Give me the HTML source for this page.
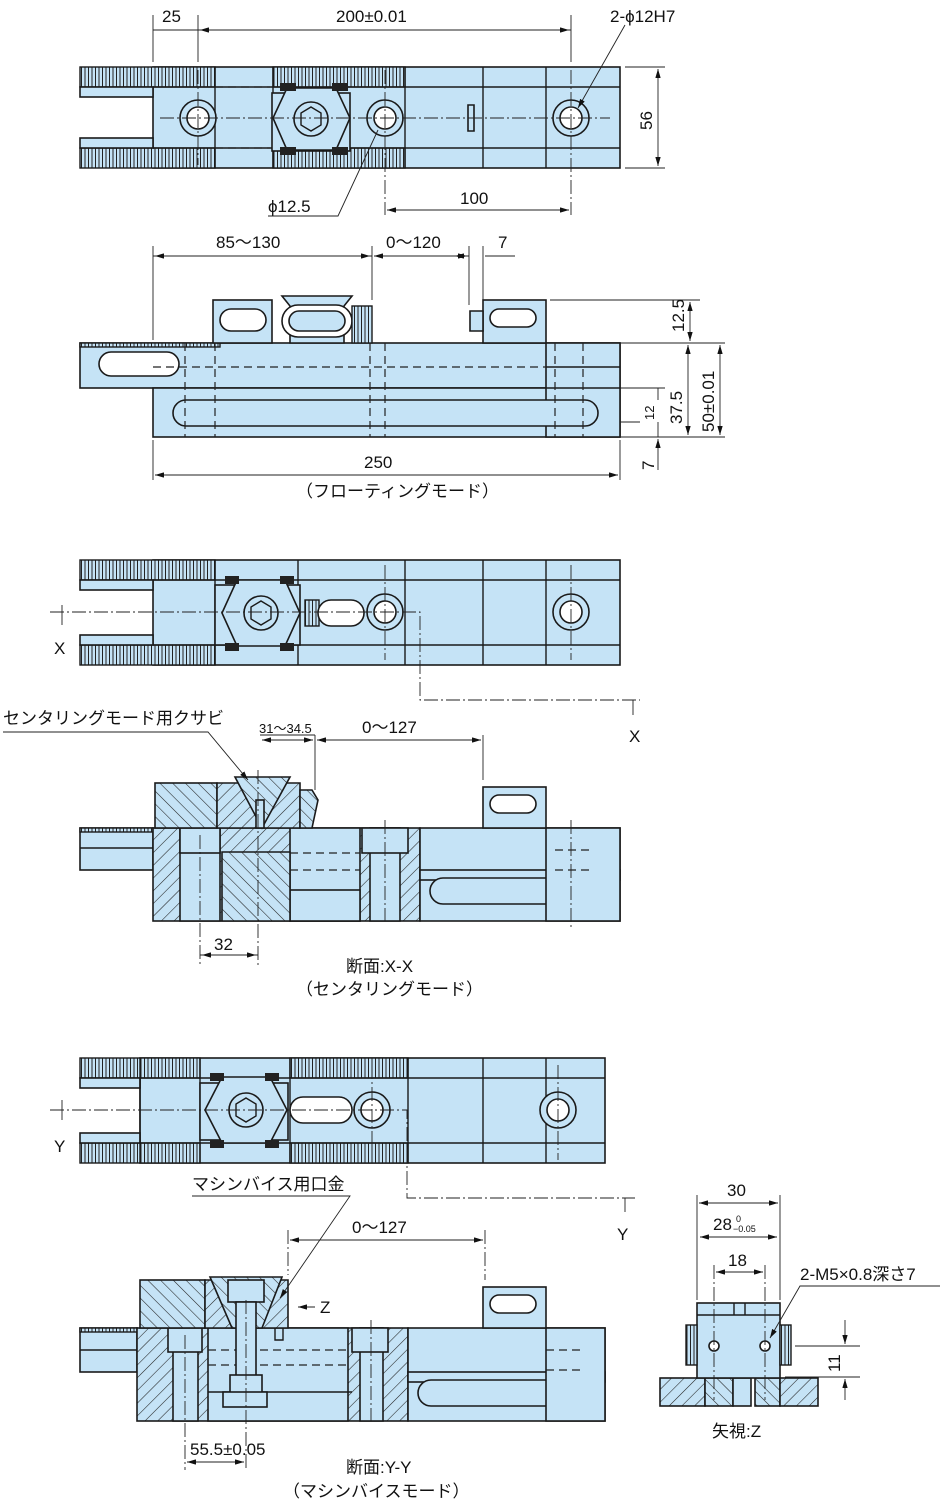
<!DOCTYPE html>
<html><head><meta charset="utf-8"><style>
body{margin:0;background:#fff}
svg{display:block}
text{font-family:"Liberation Sans","Noto Sans CJK JP",sans-serif;font-size:17px;fill:#111}
.s{fill:#c5e3f6;stroke:#1a1a1a;stroke-width:1.6}
.h{fill:url(#hat);stroke:#1a1a1a;stroke-width:1.6}
.h2{fill:url(#hat2);stroke:#1a1a1a;stroke-width:1.6}
.sr{fill:url(#ser);stroke:#1a1a1a;stroke-width:1.4}
.l{stroke:#1a1a1a;stroke-width:1.4;fill:none}
.d{stroke:#222;stroke-width:0.9;fill:none}
.dash{stroke:#222;stroke-width:1.2;stroke-dasharray:8 5;fill:none}
.c{stroke:#222;stroke-width:0.9;stroke-dasharray:14 3 2 3;fill:none}
.w{fill:#fff;stroke:#1a1a1a;stroke-width:1.6}
</style></head><body>
<svg width="941" height="1505" viewBox="0 0 941 1505" xmlns="http://www.w3.org/2000/svg">
<defs>
<pattern id="hat" width="9" height="9" patternUnits="userSpaceOnUse" patternTransform="rotate(45)"><rect width="9" height="9" fill="#c5e3f6"/><line x1="0" y1="0" x2="0" y2="9" stroke="#222" stroke-width="1.1"/></pattern>
<pattern id="hat2" width="9" height="9" patternUnits="userSpaceOnUse" patternTransform="rotate(-45)"><rect width="9" height="9" fill="#c5e3f6"/><line x1="0" y1="0" x2="0" y2="9" stroke="#222" stroke-width="1.1"/></pattern>
<pattern id="ser" width="3.5" height="10" patternUnits="userSpaceOnUse"><rect width="3.5" height="10" fill="#c5e3f6"/><line x1="1" y1="0" x2="1" y2="10" stroke="#222" stroke-width="1"/></pattern>
<marker id="a" markerWidth="10" markerHeight="6" refX="10" refY="3" orient="auto"><path d="M0,0L10,3L0,6z" fill="#111"/></marker>
<marker id="b" markerWidth="10" markerHeight="6" refX="0" refY="3" orient="auto"><path d="M10,0L0,3L10,6z" fill="#111"/></marker>
</defs>

<!-- ===== VIEW 1 ===== -->
<rect class="s" x="153" y="67" width="467" height="101"/>
<rect class="sr" x="80" y="67" width="135" height="20"/>
<rect class="sr" x="80" y="148" width="135" height="20"/>
<rect class="sr" x="273" y="67" width="132" height="20"/>
<rect class="sr" x="273" y="148" width="132" height="20"/>
<rect class="s" x="80" y="87" width="73" height="10"/>
<rect class="s" x="80" y="138" width="73" height="10"/>
<path class="l" d="M153 87H620M153 148H620M215 67V168M273 67V168M405 67V168M483 67V168M546 67V168"/>
<path class="dash" d="M215 87H270M215 148H270"/>
<rect class="s" x="272" y="93" width="78" height="58"/>
<path class="s" d="M287 88L336 88L350 118L336 150L287 150L273 118Z"/>
<circle class="s" cx="311" cy="119" r="17"/><path class="l" d="M311 107l10 6v12l-10 6l-10-6v-12z"/>
<rect x="280" y="83" width="16" height="8" fill="#222"/><rect x="332" y="83" width="16" height="8" fill="#222"/>
<rect x="280" y="147" width="16" height="8" fill="#222"/><rect x="332" y="147" width="16" height="8" fill="#222"/>
<g><circle class="s" cx="198" cy="118" r="18"/><circle class="w" cx="198" cy="118" r="11"/>
<circle class="s" cx="385" cy="118" r="18"/><circle class="w" cx="385" cy="118" r="11"/>
<circle class="s" cx="571" cy="118" r="18"/><circle class="w" cx="571" cy="118" r="11"/></g>
<path class="s" d="M468 105h6v26h-6z"/>
<path class="c" d="M160 118H610M198 70V165M385 70V215M571 70V215"/>
<path class="d" d="M153 62V15M198 62V15M571 62V15M153 30H198M198 30H571" />
<path class="d" marker-start="url(#b)" marker-end="url(#a)" d="M200 30H569"/>
<text x="162" y="22">25</text><text x="336" y="22">200±0.01</text>
<text x="610" y="22">2-ϕ12H7</text><path class="d" marker-end="url(#a)" d="M625 25L578 108"/>
<path class="d" d="M625 67H665M625 168H665"/><path class="d" marker-start="url(#b)" marker-end="url(#a)" d="M658 69V166"/>
<text x="0" y="0" transform="translate(652,130) rotate(-90)">56</text>
<path class="d" marker-start="url(#b)" marker-end="url(#a)" d="M387 210H569"/><text x="460" y="204">100</text>
<text x="268" y="212">ϕ12.5</text><path class="d" d="M268 216H338L378 130"/>

<!-- ===== VIEW 2 ===== -->
<rect class="s" x="80" y="343" width="540" height="45"/>
<rect class="sr" x="80" y="343" width="140" height="4"/>
<rect class="s" x="153" y="388" width="467" height="49"/>
<rect class="s" x="546" y="343" width="74" height="94"/>
<path class="l" d="M546 367H620M546 388H620"/>
<rect class="w" x="99" y="352" width="80" height="24" rx="12"/>
<rect class="s" x="173" y="400" width="425" height="26" rx="13"/>
<rect class="s" x="213" y="300" width="59" height="43"/><rect class="w" x="220" y="309" width="46" height="22" rx="11"/>
<path class="s" d="M282 296H352L344 306V343H290V306Z"/>
<rect class="w" x="282" y="305" width="70" height="32" rx="16"/><rect class="s" x="289" y="311" width="56" height="20" rx="10"/>
<rect class="sr" x="352" y="306" width="20" height="37"/>
<rect class="s" x="483" y="300" width="63" height="43"/><rect class="w" x="490" y="309" width="46" height="18" rx="9"/>
<path class="s" d="M470 311h13v20h-13z"/>
<path class="dash" d="M185 343V437M215 343V437M370 343V437M385 343V437M555 343V437M583 343V437M153 367H546"/>
<path class="d" d="M153 246V340M372 246V300M469 246V305M483 246V300M153 256H372"/>
<path class="d" marker-start="url(#b)" marker-end="url(#a)" d="M155 256H370"/>
<path class="d" marker-start="url(#b)" marker-end="url(#a)" d="M374 256H467"/>
<path class="d" marker-end="url(#a)" d="M515 256H485M469 256H455"/>
<text x="216" y="248">85～130</text><text x="386" y="248">0～120</text><text x="498" y="248">7</text>
<path class="d" d="M550 300H700M620 343H725M620 388H665M620 437H725M620 422H640"/>
<path class="d" marker-start="url(#b)" marker-end="url(#a)" d="M690 302V341"/><text transform="translate(684,332) rotate(-90)">12.5</text>
<path class="d" marker-start="url(#b)" marker-end="url(#a)" d="M720 345V435"/><text transform="translate(714,432) rotate(-90)">50±0.01</text>
<path class="d" marker-start="url(#b)" marker-end="url(#a)" d="M688 345V435"/><text transform="translate(682,424) rotate(-90)">37.5</text>
<path class="d" d="M658 388V400M658 437V422"/><text transform="translate(654,420) rotate(-90)" style="font-size:13px">12</text>
<path class="d" marker-end="url(#a)" d="M658 470V439"/><text transform="translate(654,470) rotate(-90)">7</text>
<path class="d" d="M153 440V480M620 440V480"/><path class="d" marker-start="url(#b)" marker-end="url(#a)" d="M155 475H618"/>
<text x="364" y="468">250</text><text x="296" y="497">（フローティングモード）</text>

<!-- ===== VIEW 3 ===== -->
<rect class="s" x="153" y="560" width="467" height="105"/>
<rect class="sr" x="80" y="560" width="135" height="20"/>
<rect class="sr" x="80" y="645" width="135" height="20"/>
<rect class="s" x="80" y="580" width="73" height="10"/>
<rect class="s" x="80" y="635" width="73" height="10"/>
<path class="l" d="M153 580H620M153 645H620M215 560V665M298 560V665M405 560V665M483 560V665M546 560V665"/>
<rect class="s" x="215" y="585" width="85" height="60"/>
<path class="s" d="M237 580L285 580L300 613L285 646L237 646L222 613Z"/>
<circle class="s" cx="261" cy="613" r="17"/><path class="l" d="M261 601l10 6v12l-10 6l-10-6v-12z"/>
<rect x="225" y="576" width="14" height="8" fill="#222"/><rect x="280" y="576" width="14" height="8" fill="#222"/>
<rect x="225" y="643" width="14" height="8" fill="#222"/><rect x="280" y="643" width="14" height="8" fill="#222"/>
<rect class="sr" x="305" y="600" width="14" height="26"/>
<rect class="w" x="318" y="600" width="46" height="26" rx="13"/>
<circle class="s" cx="385" cy="612" r="18"/><circle class="w" cx="385" cy="612" r="11"/>
<circle class="s" cx="571" cy="612" r="18"/><circle class="w" cx="571" cy="612" r="11"/>
<path class="c" d="M50 612H420V700H640M571 565V660M385 565V660"/>
<path class="d" d="M62 605V625M633 700V715"/><text x="54" y="654">X</text><text x="629" y="742">X</text>

<!-- ===== VIEW 4 section ===== -->
<rect class="s" x="80" y="828" width="73" height="42"/>
<rect class="sr" x="80" y="828" width="73" height="4"/>
<path class="l" d="M80 848H153"/>
<rect class="h" x="153" y="828" width="267" height="93"/>
<rect class="s" x="420" y="828" width="200" height="93"/>
<rect class="s" x="180" y="828" width="40" height="93"/><rect class="s" x="180" y="828" width="40" height="25"/>
<rect class="s" x="290" y="828" width="70" height="93"/><rect class="s" x="290" y="890" width="70" height="31"/>
<rect class="s" x="370" y="828" width="30" height="93"/><rect class="s" x="362" y="828" width="46" height="25"/>
<path class="h2" d="M222 852H290V921H222Z"/>
<rect class="s" x="420" y="870" width="200" height="10"/>
<rect class="s" x="430" y="878" width="168" height="26" rx="13"/>
<rect class="s" x="546" y="828" width="74" height="93"/>
<path class="dash" d="M290 853H360M290 870H360M555 850H590M555 870H590"/>
<rect class="h2" x="155" y="783" width="62" height="45"/>
<path class="h" d="M217 783H300V828H217Z"/>
<path class="h2" d="M300 790H312L318 800L312 828H300Z"/>
<path class="h2" d="M235 777H290L262 828Z"/>
<rect class="s" x="256" y="800" width="8" height="28"/>
<rect class="s" x="483" y="787" width="63" height="41"/><rect class="w" x="490" y="795" width="46" height="18" rx="9"/>
<path class="c" d="M200 835V965M258 770V965M385 820V921M571 820V930"/>
<path class="d" d="M200 955H258"/><path class="d" marker-start="url(#b)" marker-end="url(#a)" d="M202 955H256"/>
<text x="214" y="950">32</text>
<path class="d" d="M260 735H315M315 735V790"/><path class="d" marker-start="url(#b)" marker-end="url(#a)" d="M262 740H313"/>
<text x="259" y="733" style="font-size:13px">31～34.5</text>
<path class="d" d="M483 735V780"/><path class="d" marker-start="url(#b)" marker-end="url(#a)" d="M317 740H481"/>
<text x="362" y="733">0～127</text>
<text x="3" y="724">センタリングモード用クサビ</text>
<path class="d" marker-end="url(#a)" d="M3 732H208L248 780"/>
<text x="346" y="972">断面:X-X</text><text x="296" y="995">（センタリングモード）</text>

<!-- ===== VIEW 5 ===== -->
<rect class="s" x="140" y="1058" width="465" height="105"/>
<rect class="sr" x="80" y="1058" width="120" height="20"/>
<rect class="sr" x="80" y="1143" width="120" height="20"/>
<rect class="sr" x="290" y="1058" width="118" height="20"/>
<rect class="sr" x="290" y="1143" width="118" height="20"/>
<rect class="s" x="80" y="1078" width="60" height="10"/>
<rect class="s" x="80" y="1133" width="60" height="10"/>
<path class="l" d="M140 1078H605M140 1143H605M200 1058V1163M290 1058V1163M408 1058V1163M483 1058V1163M546 1058V1163M140 1058V1163"/>
<rect class="s" x="200" y="1083" width="88" height="57"/>
<path class="s" d="M222 1077L270 1077L287 1110L270 1143L222 1143L205 1110Z"/>
<circle class="s" cx="246" cy="1110" r="17"/><path class="l" d="M246 1098l10 6v12l-10 6l-10-6v-12z"/>
<rect x="210" y="1073" width="14" height="8" fill="#222"/><rect x="265" y="1073" width="14" height="8" fill="#222"/>
<rect x="210" y="1140" width="14" height="8" fill="#222"/><rect x="265" y="1140" width="14" height="8" fill="#222"/>
<rect class="w" x="290" y="1097" width="62" height="26" rx="13"/>
<circle class="s" cx="372" cy="1110" r="18"/><circle class="w" cx="372" cy="1110" r="11"/>
<circle class="s" cx="558" cy="1110" r="18"/><circle class="w" cx="558" cy="1110" r="11"/>
<path class="c" d="M50 1110H407V1198H635M558 1065V1160M372 1065V1160"/>
<path class="d" d="M62 1100V1120M625 1198V1212"/><text x="54" y="1152">Y</text><text x="617" y="1240">Y</text>

<!-- ===== VIEW 6 section ===== -->
<rect class="s" x="80" y="1328" width="57" height="44"/>
<rect class="sr" x="80" y="1328" width="57" height="4"/>
<path class="l" d="M80 1350H137"/>
<rect class="h" x="137" y="1328" width="271" height="93"/>
<rect class="s" x="408" y="1328" width="197" height="93"/>
<rect class="s" x="173" y="1328" width="25" height="93"/><rect class="s" x="168" y="1328" width="34" height="24"/>
<rect class="s" x="208" y="1328" width="140" height="93"/>
<path class="l" d="M208 1392H352"/>
<rect class="s" x="360" y="1328" width="23" height="93"/><rect class="s" x="352" y="1328" width="36" height="24"/>
<path class="dash" d="M208 1350H348M208 1365H348"/>
<rect class="s" x="408" y="1372" width="197" height="10"/>
<rect class="s" x="418" y="1380" width="170" height="26" rx="13"/>
<rect class="s" x="546" y="1328" width="59" height="93"/>
<path class="dash" d="M546 1350H580M546 1370H580"/>
<rect class="h2" x="140" y="1280" width="65" height="48"/>
<path class="h" d="M205 1280H288V1328H205Z"/>
<path class="h2" d="M210 1277H282L262 1328H232Z"/>
<rect class="s" x="228" y="1280" width="36" height="22"/>
<rect class="s" x="236" y="1302" width="20" height="90"/>
<rect class="s" x="230" y="1375" width="32" height="30"/>
<rect class="s" x="223" y="1392" width="44" height="15"/>
<path class="l" d="M275 1328V1340H283V1328"/>
<rect class="s" x="483" y="1287" width="63" height="41"/><rect class="w" x="490" y="1295" width="46" height="18" rx="9"/>
<path class="c" d="M185 1335V1470M246 1300V1470M371 1320V1421M288 1230V1275M485 1230V1280"/>
<path class="d" marker-start="url(#b)" marker-end="url(#a)" d="M290 1240H483"/><text x="352" y="1233">0～127</text>
<path class="d" marker-start="url(#b)" marker-end="url(#a)" d="M187 1462H244"/><text x="190" y="1455">55.5±0.05</text>
<text x="192" y="1190">マシンバイス用口金</text>
<path class="d" marker-end="url(#a)" d="M192 1196H350L280 1298"/>
<path class="d" marker-end="url(#a)" d="M315 1307H298"/><text x="320" y="1313">Z</text>
<text x="346" y="1473">断面:Y-Y</text><text x="283" y="1497">（マシンバイスモード）</text>

<!-- ===== VIEW Z ===== -->
<rect class="h" x="660" y="1378" width="45" height="28"/>
<rect class="h2" x="705" y="1378" width="28" height="28"/>
<rect class="s" x="733" y="1378" width="18" height="28"/>
<rect class="h2" x="755" y="1378" width="25" height="28"/>
<rect class="h" x="780" y="1378" width="38" height="28"/>
<rect class="s" x="697" y="1303" width="83" height="75"/>
<path class="l" d="M697 1315H780M734 1303V1315M745 1303V1315"/>
<rect class="sr" x="686" y="1325" width="11" height="40"/><rect class="sr" x="780" y="1325" width="11" height="40"/>
<circle class="w" cx="714" cy="1346" r="5"/><circle class="w" cx="765" cy="1346" r="5"/>
<path class="c" d="M714 1265V1400M765 1265V1400"/>
<path class="d" d="M697 1195V1300M780 1195V1300"/>
<path class="d" marker-start="url(#b)" marker-end="url(#a)" d="M699 1203H778"/><text x="727" y="1196">30</text>
<path class="d" marker-start="url(#b)" marker-end="url(#a)" d="M700 1237H777"/>
<text x="713" y="1230">28</text><text x="736" y="1222" style="font-size:9px">0</text><text x="733" y="1232" style="font-size:9px">−0.05</text>
<path class="d" marker-start="url(#b)" marker-end="url(#a)" d="M716 1272H763"/><text x="728" y="1266">18</text>
<text x="800" y="1280">2-M5×0.8深さ7</text>
<path class="d" marker-end="url(#a)" d="M940 1286H800L770 1338"/>
<path class="d" d="M795 1346H860M785 1377H860"/>
<path class="d" marker-end="url(#a)" d="M845 1320V1344"/><path class="d" marker-end="url(#a)" d="M845 1400V1379"/>
<text transform="translate(840,1372) rotate(-90)">11</text>
<text x="712" y="1437">矢視:Z</text>
</svg>
</body></html>
